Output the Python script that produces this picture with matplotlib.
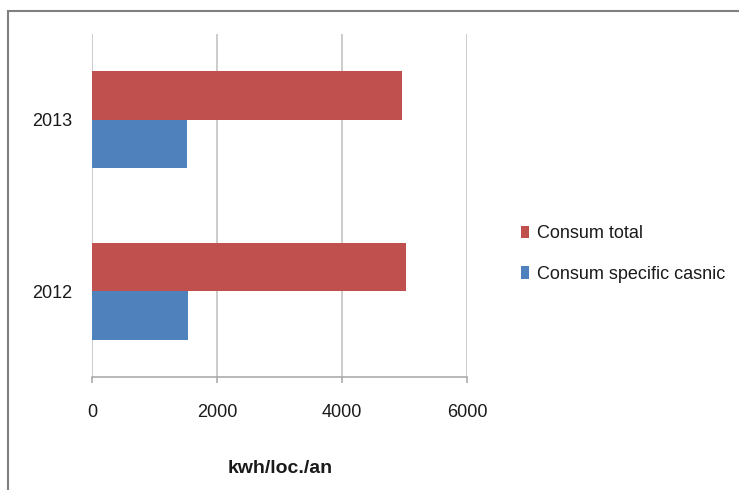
import numpy as np
import matplotlib
matplotlib.use("Agg")
import matplotlib.pyplot as plt
from matplotlib.patches import Rectangle

# data
years = ["2012", "2013"]
consum_total = [5015, 4950]
consum_specific = [1530, 1515]
series_labels = ["Consum total", "Consum specific casnic"]
x_ticks = [0, 2000, 4000, 6000]

RED = "#C0504D"
BLUE = "#4F81BD"
GRID = "#BFBFBF"

plt.rcParams["font.family"] = ["Liberation Sans", "DejaVu Sans"]

fig = plt.figure(figsize=(7.39, 4.90), dpi=100)
ax = fig.add_axes([0.1245, 0.2306, 0.508, 0.70])

y = np.arange(len(years))
h = 0.284
b_total = ax.barh(y + h / 2, consum_total, height=h, color=RED, zorder=3)
b_spec = ax.barh(y - h / 2, consum_specific, height=h, color=BLUE, zorder=3)

ax.set_xlim(0, 6000)
ax.set_ylim(-0.5, 1.5)
ax.set_xticks(x_ticks)
ax.set_xticklabels([str(t) for t in x_ticks])
ax.set_yticks(y)
ax.set_yticklabels(years)

ax.xaxis.grid(True, color=GRID, lw=1.1, zorder=0)
for s in ["top", "right", "left"]:
    ax.spines[s].set_visible(False)
ax.spines["bottom"].set_color("#A6A6A6")
ax.spines["bottom"].set_linewidth(1.1)

ax.tick_params(axis="x", length=4.5, width=1.1, color="#A6A6A6",
               pad=15, labelsize=13, labelcolor="#1a1a1a")
ax.tick_params(axis="y", length=0, pad=14, labelsize=13, labelcolor="#1a1a1a")

ax.set_xlabel("kwh/loc./an", fontsize=14, fontweight="bold", labelpad=28,
              color="#1a1a1a")

fig.legend([b_total, b_spec], series_labels, loc="center left",
           bbox_to_anchor=(521 / 739, 1 - 254 / 490), frameon=False,
           fontsize=13, handlelength=0.45, handleheight=0.7,
           handletextpad=0.45, labelspacing=1.3, borderpad=0, borderaxespad=0,
           labelcolor="#1a1a1a")

# outer chart border (runs off the right and bottom edges)
fig.patches.append(Rectangle((7.5 / 739, -0.1), 1.2, 1.1 - 11.3 / 490,
                             transform=fig.transFigure, fill=False,
                             ec="#808080", lw=1.5))

fig.savefig("out.png", dpi=100)
